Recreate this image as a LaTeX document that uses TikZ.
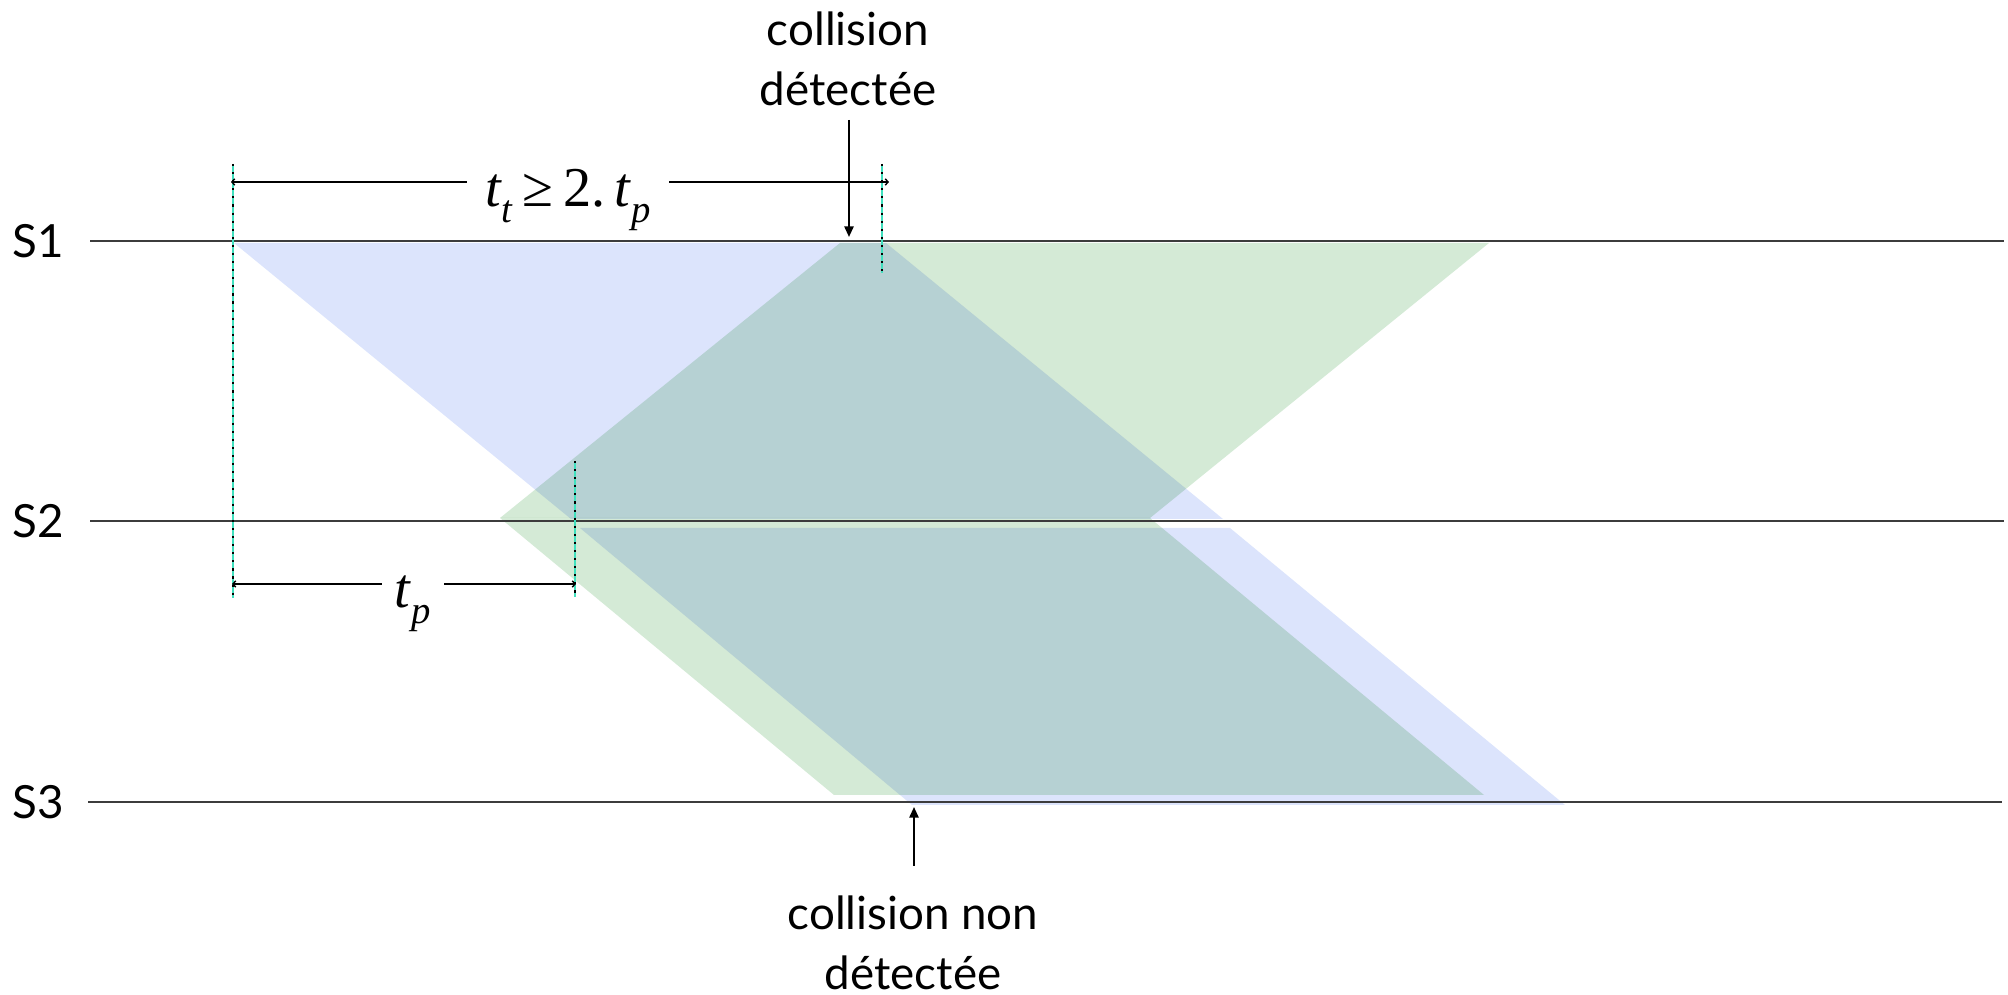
\documentclass[tikz,border=0pt]{standalone}
\usepackage{fontspec}
\setmainfont{Lato}
\newfontfamily\tms{Liberation Serif}
\usetikzlibrary{arrows.meta}
\definecolor{bluefill}{RGB}{220,228,252}
\definecolor{greenfill}{RGB}{212,234,214}
\definecolor{turq}{RGB}{64,224,190}
\definecolor{slinec}{RGB}{60,60,60}
\newcommand{\tsb}[2]{\textit{#1}\raisebox{-0.28em}{\fontsize{11}{11}\selectfont\textit{#2}}}
\begin{document}
\begin{tikzpicture}[x=0.01cm,y=-0.01cm,
  lbl/.style={font=\fontsize{13}{17}\selectfont, align=center, inner sep=0pt},
  slabel/.style={font=\fontsize{13}{15}\selectfont, inner sep=0pt},
  fml/.style={font=\tms\fontsize{16}{18}\selectfont, inner xsep=5pt, inner ysep=0pt},
  sline/.style={draw=slinec, line width=0.5pt},
  vturq/.style={draw=turq, line width=0.7pt},
  vdots/.style={draw=black, line width=0.8pt, dash pattern=on 0.6pt off 1.7pt},
  dimline/.style={draw=black, line width=0.4pt},
  tinytip/.style={-{Straight Barb[length=0.8pt,width=1.8pt]}},
  arr/.style={draw=black, line width=0.55pt, -{Triangle[length=3pt,width=2.6pt]}}
]
\useasboundingbox (0,0) rectangle (2008,995);

% signal propagation areas
\begin{scope}[blend group=multiply]
\fill[bluefill] (234,243) -- (886,243) -- (1223,519) -- (571,519) -- cycle;
\fill[bluefill] (580,528) -- (1230,528) -- (1565,805) -- (912,805) -- cycle;
\fill[greenfill] (840,243) -- (1489,243) -- (1150,518) -- (500,518) -- cycle;
\fill[greenfill] (500,518) -- (1150,518) -- (1484,795) -- (834,795) -- cycle;
\end{scope}

% station labels and lines
\node[slabel] (s1) at (38,241) {S1};
\node[slabel] (s2) at (38,521) {S2};
\node[slabel] (s3) at (38,802) {S3};
\coordinate (s1a) at (90,241);  \coordinate (s1b) at (2004,241);
\coordinate (s2a) at (90,521);  \coordinate (s2b) at (2004,521);
\coordinate (s3a) at (88,802);  \coordinate (s3b) at (2002,802);
\draw[sline] (s1a) -- (s1b);
\draw[sline] (s2a) -- (s2b);
\draw[sline] (s3a) -- (s3b);

% vertical dotted markers
\coordinate (v1t) at (233,164); \coordinate (v1b) at (233,598);
\coordinate (v2t) at (882,164); \coordinate (v2b) at (882,273);
\coordinate (v3t) at (575,461); \coordinate (v3b) at (575,597);
\draw[vturq] (v1t) -- (v1b);
\draw[vdots] (v1t) -- (v1b);
\draw[vturq] (v2t) -- (v2b);
\draw[vdots] (v2t) -- (v2b);
\draw[vturq] (v3t) -- (v3b);
\draw[vdots] (v3t) -- (v3b);

% dimension t_t >= 2. t_p
\coordinate (d1l) at (231,182); \coordinate (d1r) at (889,182);
\node[fml, anchor=base] (tt) at (568,207) {\tsb{t}{t}\,≥\,2.\,\tsb{t}{p}};
\draw[dimline, tinytip] (d1l -| tt.west) -- (d1l);
\draw[dimline, tinytip] (d1r -| tt.east) -- (d1r);

% dimension t_p
\coordinate (d2l) at (232,584); \coordinate (d2r) at (576,584);
\node[fml, anchor=base, inner xsep=3.5pt] (tp) at (413,608) {\tsb{t}{p}};
\draw[dimline, tinytip] (d2l -| tp.west) -- (d2l);
\draw[dimline, tinytip] (d2r -| tp.east) -- (d2r);

% collision labels and arrows
\node[lbl] (cdet) at (848,59) {collision\\détectée};
\coordinate (a1s) at (849,120); \coordinate (a1e) at (849,237);
\draw[arr] (a1s) -- (a1e);

\node[lbl] (cnon) at (913,943) {collision non\\détectée};
\coordinate (a2s) at (914,866); \coordinate (a2e) at (914,807);
\draw[arr] (a2s) -- (a2e);
\end{tikzpicture}
\end{document}
